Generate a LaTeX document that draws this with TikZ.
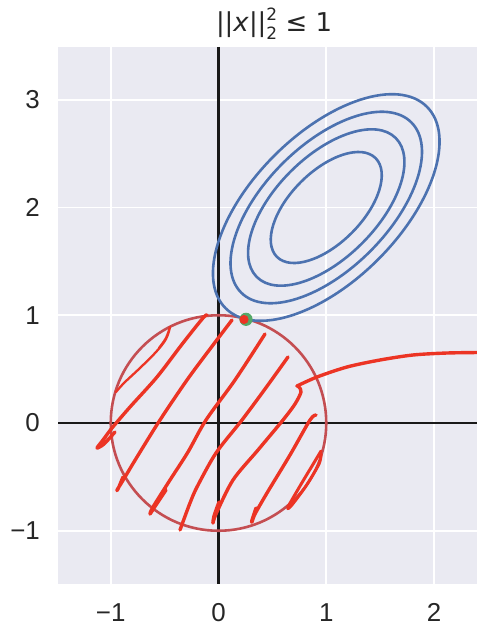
\documentclass[tikz,border=0pt]{standalone}
\usepackage{fontspec}
\newfontfamily\tickfont{Liberation Sans}
\newfontfamily\titlefont{DejaVu Sans}
\definecolor{bgc}{RGB}{234,234,242}
\definecolor{cblue}{RGB}{76,114,176}
\definecolor{ccirc}{RGB}{196,78,82}
\definecolor{scred}{RGB}{236,52,36}
\definecolor{cgreen}{RGB}{85,168,104}
\tikzset{
  gridline/.style={white, line width=1.7bp},
  axisline/.style={black!90, line width=2.2bp},
  contour/.style={draw=cblue, line width=2.6bp},
  scrib/.style={draw=scred, line width=3.4bp, line cap=round, line join=round},
  thinscrib/.style={scrib, line width=2.3bp},
  ticklab/.style={font=\tickfont\fontsize{26}{26}\selectfont, inner sep=0pt, text=black!85},
}
\begin{document}
\begin{tikzpicture}[x=1bp,y=-1bp]
\useasboundingbox (0,0) rectangle (477,627);
% plot area
\fill[bgc] (58,47) rectangle (477,584);
% grid
\foreach \gx in {110.75,326.25,434} \draw[gridline] (\gx,47) -- (\gx,584);
\foreach \gy in {99.75,207.5,315.25,530.75} \draw[gridline] (58,\gy) -- (477,\gy);
% axes through origin
\draw[axisline] (218.5,47) -- (218.5,584);
\draw[axisline] (58,423) -- (477,423);
% unit circle
\draw[ccirc, line width=2.6bp] (218.5,423) circle [radius=107.75];
% contours
\foreach \s in {0.49,0.69,0.845,1}
  \draw[contour, rotate around={45:(326.25,207.5)}] (326.25,207.5) ellipse [x radius=142.4*\s, y radius=73.4*\s];
% solution point
\fill[cgreen] (246,319.3) circle [radius=6.6];
\fill[scred] (244,319.5) circle [radius=4.6];
% hand-drawn hatching
\draw[thinscrib] plot[smooth, tension=0.6] coordinates {(116,392) (124,383) (140,368) (156,352) (166,339) (170,327) (166,338) (159,348)};
\draw[scrib] plot[smooth, tension=0.5] coordinates {(115,432) (104,444) (97,448) (103,440) (112,428) (130,407) (157,377) (183,343) (203,318) (207,315)};
\draw[scrib] plot[smooth, tension=0.5] coordinates {(123,477) (118,489) (117,490) (122,482) (137,457) (160,420) (187,380) (210,349) (232,320)};
\draw[scrib] plot[smooth, tension=0.5] coordinates {(166,490) (154,508) (150,514) (153,507) (170,480) (188,452) (206,420) (235,380) (265,334)};
\draw[scrib] plot[smooth, tension=0.5] coordinates {(180,530) (184,519) (190,503) (197,487) (216,453) (242,420) (265,389) (288,357)};
\draw[scrib] plot[smooth, tension=0.5] coordinates {(219,502) (214,516) (213,523) (216,514) (233,480) (258,450) (283,420) (295,404) (301,392) (299,387) (297,386)};
\draw[scrib] plot[smooth, tension=0.5] coordinates {(297,386) (317,377) (347,367) (380,360) (413,355) (447,353) (480,352.5)};
\draw[scrib] plot[smooth, tension=0.5] coordinates {(256,508) (252,520) (252,522) (255,514) (267,493) (290,455) (310,420) (316,415)};
\draw[scrib, line width=3bp] plot[smooth, tension=0.5] coordinates {(321,451) (312,466) (300,486) (288,507) (291,506) (306,486) (319,464) (321,454)};
% tick labels
\node[ticklab, anchor=base] (xm1) at (110.75,621.5) {−1};
\node[ticklab, anchor=base] (x0) at (218.5,621.5) {0};
\node[ticklab, anchor=base] (x1) at (326.25,621.5) {1};
\node[ticklab, anchor=base] (x2) at (434,621.5) {2};
\node[ticklab, anchor=east] (y3) at (40,99.75) {3};
\node[ticklab, anchor=east] (y2) at (40,207.5) {2};
\node[ticklab, anchor=east] (y1) at (40,315.25) {1};
\node[ticklab, anchor=east] (y0) at (40,423) {0};
\node[ticklab, anchor=east] (ym1) at (40,530.75) {−1};
% title
\node[anchor=base, inner sep=0pt, text=black!85] (title) at (274,31.5) {\titlefont\fontsize{26}{26}\selectfont ||\textit{x}||\rlap{\raisebox{0.42em}{\fontsize{17}{17}\selectfont 2}}\raisebox{-0.3em}{\fontsize{17}{17}\selectfont 2}\hspace{0.32em}≤\hspace{0.32em}1};
\end{tikzpicture}
\end{document}
